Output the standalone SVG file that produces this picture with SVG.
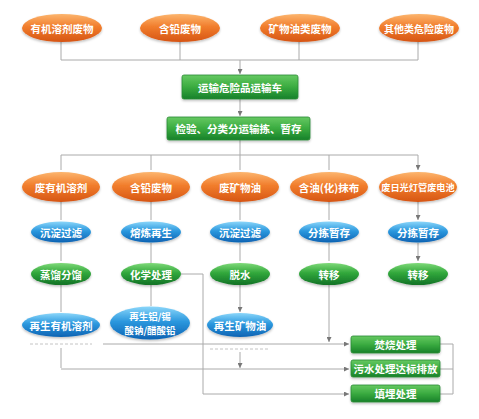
<svg xmlns="http://www.w3.org/2000/svg" width="479" height="419" viewBox="0 0 479 419">
<defs>
<linearGradient id="gOr" x1="0" y1="0" x2="0" y2="1">
<stop offset="0" stop-color="#fcb56e"/><stop offset="0.45" stop-color="#f17d2c"/><stop offset="1" stop-color="#d65514"/>
</linearGradient>
<linearGradient id="gBl" x1="0" y1="0" x2="0" y2="1">
<stop offset="0" stop-color="#8ad6fa"/><stop offset="0.45" stop-color="#2b98de"/><stop offset="1" stop-color="#0d63b3"/>
</linearGradient>
<linearGradient id="gGe" x1="0" y1="0" x2="0" y2="1">
<stop offset="0" stop-color="#7fd978"/><stop offset="0.45" stop-color="#31a83c"/><stop offset="1" stop-color="#127226"/>
</linearGradient>
<linearGradient id="gGb" x1="0" y1="0" x2="0" y2="1">
<stop offset="0" stop-color="#66c962"/><stop offset="0.5" stop-color="#3aab40"/><stop offset="1" stop-color="#17812a"/>
</linearGradient>
<filter id="sh" x="-20%" y="-30%" width="140%" height="170%">
<feDropShadow dx="0" dy="1.5" stdDeviation="1.2" flood-color="#000" flood-opacity="0.25"/>
</filter>
<marker id="ar" markerWidth="5" markerHeight="5" refX="5" refY="2.5" orient="auto" markerUnits="userSpaceOnUse">
<path d="M0,0 L5,2.5 L0,5 z" fill="#777"/>
</marker>
</defs>
<style>
.or{fill:url(#gOr);filter:url(#sh)}
.bl{fill:url(#gBl);filter:url(#sh)}
.ge{fill:url(#gGe);filter:url(#sh)}
.gb{fill:url(#gGb);stroke:#2c8c36;stroke-width:0.8;filter:url(#sh)}
text{font-family:"Noto Sans CJK SC","Noto Sans",sans-serif;font-size:10.5px;font-weight:bold;fill:#fff;text-anchor:middle;dominant-baseline:central}
.sm{font-size:9.2px}
.s2{font-size:10px}
.s3{font-size:9.5px}
.ln{fill:none;stroke:#aaa;stroke-width:1}
.a{marker-end:url(#ar)}
.ds{fill:none;stroke:#c4c4c4;stroke-width:1;stroke-dasharray:3,2}
</style>
<g id="connectors">
<path class="ln" d="M61,42V60M180,42V60M299,42V60M418,42V60M61,60H418"/>
<path class="ln a" d="M240,60V74"/>
<path class="ln a" d="M240,99V116"/>
<path class="ln" d="M240,140V155M61,155H418"/>
<path class="ln a" d="M61,155V170M151,155V170M240,155V170M329,155V170M418,155V170"/>
<path class="ln a" d="M61,202V220M151,202V220M240,202V220M329,202V220M418,202V220"/>
<path class="ln a" d="M61,243V261M240,243V261M329,243V261M418,243V261"/>
<path class="ln" d="M151,243V263"/>
<path class="ln a" d="M61,285V312M151,285V306M240,285V312"/>
<path class="ln a" d="M329,285V342"/>
<path class="ln a" d="M181,274H203V394H349"/>
<path class="ln a" d="M103,344H349"/>
<path class="ds" d="M30,344H92M210,349H270"/>
<path class="ln a" d="M61,348V368M240,352V368"/>
<path class="ln a" d="M61,369H349"/>
<path class="ln" d="M440,344H453M440,369H453M440,394H453M453,344V394"/>
</g>
<g id="n1"><ellipse class="or" cx="62" cy="28" rx="40" ry="14"/><text x="62" y="28">有机溶剂废物</text></g>
<g id="n2"><ellipse class="or" cx="180" cy="28" rx="40" ry="14"/><text x="180" y="28">含铅废物</text></g>
<g id="n3"><ellipse class="or" cx="300" cy="28" rx="40" ry="14"/><text x="300" y="28">矿物油类废物</text></g>
<g id="n4"><ellipse class="or" cx="419" cy="28" rx="40" ry="14"/><text class="s2" x="419" y="28">其他类危险废物</text></g>
<g id="b1"><rect class="gb" x="182" y="75" width="116" height="24" rx="2"/><text x="240" y="87">运输危险品运输车</text></g>
<g id="b2"><rect class="gb" x="167" y="117" width="143" height="23" rx="2"/><text x="238.5" y="128.5">检验、分类分运输拣、暂存</text></g>
<g id="c1"><ellipse class="or" cx="61" cy="187" rx="39" ry="15"/><text x="61" y="187">废有机溶剂</text></g>
<g id="c2"><ellipse class="or" cx="151" cy="187" rx="39" ry="15"/><text x="151" y="187">含铅废物</text></g>
<g id="c3"><ellipse class="or" cx="240" cy="187" rx="39" ry="15"/><text x="240" y="187">废矿物油</text></g>
<g id="c4"><ellipse class="or" cx="329" cy="187" rx="39" ry="15"/><text x="329" y="187">含油(化)抹布</text></g>
<g id="c5"><ellipse class="or" cx="418" cy="187" rx="39" ry="15"/><text class="sm" x="418" y="187">废日光灯管废电池</text></g>
<g id="d1"><ellipse class="bl" cx="61" cy="232" rx="30" ry="10.5"/><text x="61" y="232">沉淀过滤</text></g>
<g id="d2"><ellipse class="bl" cx="151" cy="232" rx="30" ry="10.5"/><text x="151" y="232">熔炼再生</text></g>
<g id="d3"><ellipse class="bl" cx="240" cy="232" rx="30" ry="10.5"/><text x="240" y="232">沉淀过滤</text></g>
<g id="d4"><ellipse class="bl" cx="329" cy="232" rx="30" ry="10.5"/><text x="329" y="232">分拣暂存</text></g>
<g id="d5"><ellipse class="bl" cx="418" cy="232" rx="30" ry="10.5"/><text x="418" y="232">分拣暂存</text></g>
<g id="e1"><ellipse class="ge" cx="61" cy="274" rx="30" ry="11"/><text x="61" y="274">蒸馏分馏</text></g>
<g id="e2"><ellipse class="ge" cx="151" cy="274" rx="30" ry="11"/><text x="151" y="274">化学处理</text></g>
<g id="e3"><ellipse class="ge" cx="240" cy="274" rx="30" ry="11"/><text x="240" y="274">脱水</text></g>
<g id="e4"><ellipse class="ge" cx="329" cy="274" rx="30" ry="11"/><text x="329" y="274">转移</text></g>
<g id="e5"><ellipse class="ge" cx="418" cy="274" rx="30" ry="11"/><text x="418" y="274">转移</text></g>
<g id="f1"><ellipse class="bl" cx="61" cy="325" rx="39" ry="12"/><text x="61" y="325">再生有机溶剂</text></g>
<g id="f2"><ellipse class="bl" cx="150" cy="323" rx="40" ry="16.5"/><text class="s3" x="150" y="316">再生铝/锡</text><text class="s3" x="150" y="330">酸钠/醋酸铅</text></g>
<g id="f3"><ellipse class="bl" cx="240" cy="325" rx="33" ry="12"/><text x="240" y="325">再生矿物油</text></g>
<g id="g1"><rect class="gb" x="351" y="336" width="89" height="17" rx="2"/><text x="395.5" y="344.5">焚烧处理</text></g>
<g id="g2"><rect class="gb" x="351" y="360" width="89" height="17" rx="2"/><text x="395.5" y="368.5">污水处理达标排放</text></g>
<g id="g3"><rect class="gb" x="351" y="385" width="89" height="17" rx="2"/><text x="395.5" y="393.5">填埋处理</text></g>
</svg>
